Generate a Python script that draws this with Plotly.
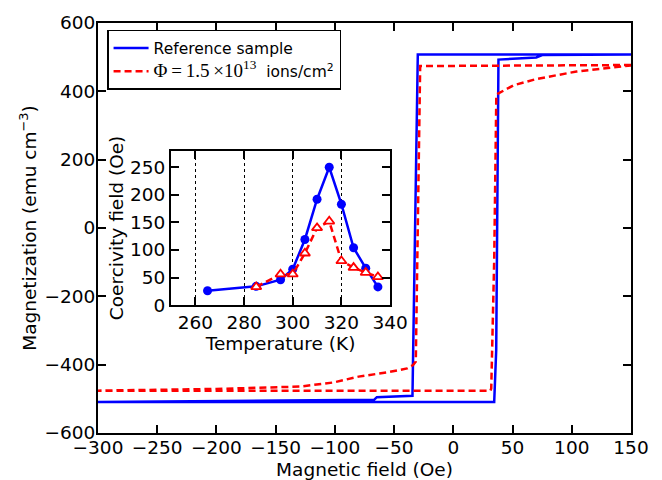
import plotly.graph_objects as go

# ---- main hysteresis loops (field in Oe, magnetization in emu/cm^3) ----
ref_field = [150, -30, -34.5, -64.6, -66.9, -300,
             -300, 34.5, 36.2, 38.1, 70, 75, 150]
ref_mag = [508, 508, -491, -495, -503, -508,
           -509, -509, -357, 493, 499, 506, 508]

irr_field = [150, -28, -31.7, -34, -39, -55, -80, -101, -129, -200, -300,
             -300, 31.3, 32, 34.5, 36.3, 38.1, 51, 70, 104, 127, 150]
irr_mag = [477, 474, -391, -401, -411, -422, -435, -452, -464, -471, -476,
           -476, -476, -470, -94, 390, 394, 418, 436, 458, 467, 476]

# ---- inset: coercivity vs temperature ----
ref_temp = [265, 285, 295, 300, 305, 310, 315, 320, 325, 330, 335]
ref_hc = [26, 34, 46, 65, 119, 192, 250, 183, 104, 67, 33]
irr_temp = [285, 295, 300, 305, 310, 315, 320, 325, 330, 335]
irr_hc = [33, 56, 56, 94, 140, 152, 80, 68, 59, 51]

x_ticks = [-300, -250, -200, -150, -100, -50, 0, 50, 100, 150]
y_ticks = [-600, -400, -200, 0, 200, 400, 600]
tx_ticks = [260, 280, 300, 320, 340]
ty_ticks = [0, 50, 100, 150, 200, 250]

FONT = "DejaVu Sans"
FS = 18.5
BLUE = "#0000ff"
RED = "#ff0000"
DASH = "7px,4px"

fig = go.Figure()
fig.add_trace(go.Scatter(x=ref_field, y=ref_mag, mode="lines",
                         line=dict(color=BLUE, width=2.5),
                         name="Reference sample"))
fig.add_trace(go.Scatter(
    x=irr_field, y=irr_mag, mode="lines",
    line=dict(color=RED, width=2.5, dash=DASH),
    name='<span style="font-family:Liberation Serif;font-size:19px">'
         '\u03a6\u2009=\u20091.5\u2009\u00d710<sup>13</sup></span>\u00a0 ions/cm<sup>2</sup>'))

fig.add_trace(go.Scatter(x=ref_temp, y=ref_hc, mode="lines+markers",
                         xaxis="x2", yaxis="y2", showlegend=False,
                         line=dict(color=BLUE, width=2.5),
                         marker=dict(symbol="circle", size=9, color=BLUE)))
fig.add_trace(go.Scatter(x=irr_temp, y=irr_hc, mode="lines+markers",
                         xaxis="x2", yaxis="y2", showlegend=False,
                         line=dict(color=RED, width=2.5, dash=DASH),
                         marker=dict(symbol="triangle-up", size=9, color="white",
                                     line=dict(color=RED, width=1.8))))

axis_common = dict(showline=True, linecolor="black", linewidth=2, mirror="ticks",
                   ticks="inside", ticklen=8, tickwidth=1.5, tickcolor="black",
                   zeroline=False, showgrid=False,
                   tickfont=dict(family=FONT, size=FS, color="black"))

# the page body has an 8px margin, so the figure is drawn 8px smaller
fig.update_layout(
    width=654, height=472,
    margin=dict(l=90, r=31, t=15, b=47, autoexpand=False),
    paper_bgcolor="white", plot_bgcolor="white",
    font=dict(family=FONT, size=FS, color="black"),
    xaxis=dict(range=[-300, 150], tickvals=x_ticks, ticklabelstandoff=-3,
               title=dict(text="Magnetic field (Oe)", standoff=10,
                          font=dict(family=FONT, size=FS)),
               **axis_common),
    yaxis=dict(range=[-600, 600], tickvals=y_ticks, ticklabelstandoff=-3,
               title=dict(text="Magnetization (emu cm<sup>\u22123</sup>)", standoff=3,
                          font=dict(family=FONT, size=FS)),
               **axis_common),
    xaxis2=dict(domain=[0.137, 0.548], anchor="y2", range=[250, 340],
                tickvals=tx_ticks,
                title=dict(text="Temperature (K)", standoff=2,
                           font=dict(family=FONT, size=FS)),
                **{**axis_common, "showgrid": True},
                gridcolor="black", griddash="dot", gridwidth=1),
    yaxis2=dict(domain=[0.312, 0.6885], anchor="x2", range=[0, 280],
                tickvals=ty_ticks,
                title=dict(text="Coercivity field (Oe)", standoff=2,
                           font=dict(family=FONT, size=FS)),
                **axis_common),
    legend=dict(x=0.017, y=0.983, xanchor="left", yanchor="top",
                bgcolor="white", bordercolor="black", borderwidth=1.5,
                font=dict(family=FONT, size=15.5, color="black"),
                tracegroupgap=0, itemwidth=35),
    showlegend=True,
)

fig.write_html("out.html")
